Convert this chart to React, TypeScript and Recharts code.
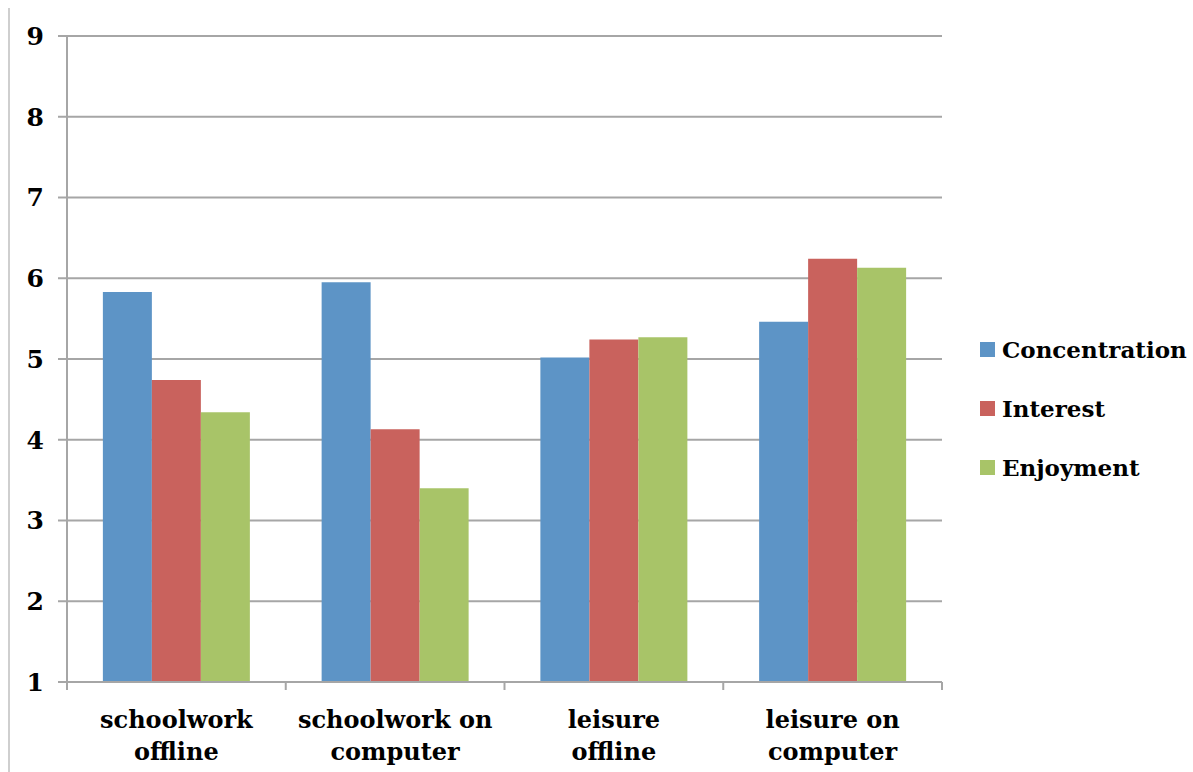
import { BarChart, Bar, XAxis, YAxis, CartesianGrid } from "recharts";

const categories = ["schoolwork offline", "schoolwork on computer", "leisure offline", "leisure on computer"];
const categoryLines = [["schoolwork", "offline"], ["schoolwork on", "computer"], ["leisure", "offline"], ["leisure on", "computer"]];
const concentration = [5.83, 5.95, 5.02, 5.46];
const interest = [4.74, 4.13, 5.24, 6.24];
const enjoyment = [4.34, 3.4, 5.27, 6.13];
const yTicks = [1, 2, 3, 4, 5, 6, 7, 8, 9];

const series = [
  { key: "concentration", name: "Concentration", color: "#5D94C6" },
  { key: "interest", name: "Interest", color: "#C9625D" },
  { key: "enjoyment", name: "Enjoyment", color: "#A8C468" },
];

const W = 1193;
const H = 772;
const M = { top: 36, right: 251, left: 0, bottom: 0 };
const Y_W = 67;
const FONT = "'DejaVu Serif', 'Liberation Serif', serif";
const GRID = "#a6a6a6";

const data = categories.map((c, i) => ({
  name: c,
  concentration: concentration[i],
  interest: interest[i],
  enjoyment: enjoyment[i],
}));

const step = (W - M.left - M.right - Y_W) / categories.length;

function CategoryTick(props: any) {
  const { x, y, payload, index } = props;
  const lines = categoryLines[index] ?? [payload.value];
  return (
    <g>
      <line x1={x - step / 2} x2={x - step / 2} y1={y - 8} y2={y} stroke={GRID} strokeWidth={2} />
      {index === categories.length - 1 && (
        <line x1={x + step / 2} x2={x + step / 2} y1={y - 8} y2={y} stroke={GRID} strokeWidth={2} />
      )}
      {lines.map((l: string, i: number) => (
        <text key={i} x={x} y={y + 38 + i * 32} textAnchor="middle" fontFamily={FONT} fontWeight="bold" fontSize={24} fill="#000">
          {l}
        </text>
      ))}
    </g>
  );
}

function LegendBox() {
  return (
    <div style={{ position: "absolute", left: 980, top: 320, fontFamily: FONT, fontWeight: "bold", fontSize: 23 }}>
      {series.map((s) => (
        <div key={s.key} style={{ display: "flex", alignItems: "center", height: 59 }}>
          <span style={{ width: 15, height: 15, background: s.color, marginRight: 7, display: "inline-block" }} />
          <span>{s.name}</span>
        </div>
      ))}
    </div>
  );
}

export default function App() {
  return (
    <div style={{ position: "absolute", left: 0, top: 0, width: W, height: H, background: "#fff" }}>
      <div style={{ position: "absolute", left: 8, top: 8, width: 2, height: H - 8, background: "#cfcfcf" }} />
      <BarChart width={W} height={H} data={data} margin={M} barCategoryGap="16.4%" barGap={0}>
        <CartesianGrid vertical={false} stroke={GRID} strokeWidth={2} />
        <XAxis
          dataKey="name"
          height={90}
          interval={0}
          axisLine={{ stroke: GRID, strokeWidth: 2 }}
          tickLine={false}
          tick={<CategoryTick />}
        />
        <YAxis
          width={Y_W}
          domain={[1, 9]}
          ticks={yTicks}
          interval={0}
          allowDataOverflow
          axisLine={{ stroke: GRID, strokeWidth: 2 }}
          tickLine={{ stroke: GRID, strokeWidth: 2 }}
          tickSize={9}
          tickMargin={14}
          tick={{ fontFamily: FONT, fontWeight: "bold", fontSize: 25, fill: "#000" }}
        />
        {series.map((s) => (
          <Bar key={s.key} dataKey={s.key} name={s.name} fill={s.color} isAnimationActive={false} />
        ))}
      </BarChart>
      <LegendBox />
    </div>
  );
}
